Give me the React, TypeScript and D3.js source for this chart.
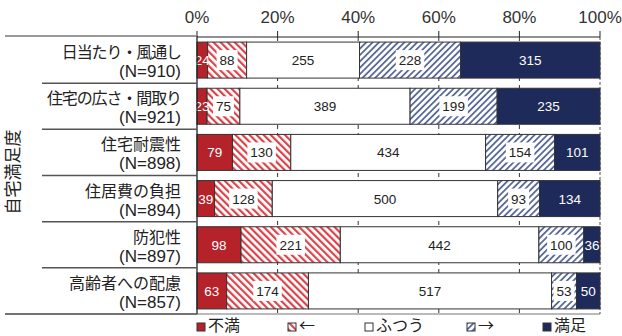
import React from "react";
import * as d3 from "d3";

const categories = ["日当たり・風通し", "住宅の広さ・間取り", "住宅耐震性", "住居費の負担", "防犯性", "高齢者への配慮"];
const totals = [910, 921, 898, 894, 897, 857];
const fuman = [24, 23, 79, 39, 98, 63];
const yaFuman = [88, 75, 130, 128, 221, 174];
const futsuu = [255, 389, 434, 500, 442, 517];
const yaManzoku = [228, 199, 154, 93, 100, 53];
const manzoku = [315, 235, 101, 134, 36, 50];
const seriesNames = ["不満", "←", "ふつう", "→", "満足"];
const tickValues = [0, 0.2, 0.4, 0.6, 0.8, 1];
const axisTitle = "自宅満足度";

const W = 622, H = 336;
const x0 = 197, x1 = 600, yTop = 37, yBot = 314;
const RED = "#b5222a", NAVY = "#1e2a5a";
const FONT = "'Liberation Sans', Arial, 'Noto Sans CJK JP', sans-serif";
const CJK = "'Noto Sans CJK JP', sans-serif";

export default function App() {
  const series = [fuman, yaFuman, futsuu, yaManzoku, manzoku];
  const x = d3.scaleLinear().domain([0, 1]).range([x0, x1]);
  const y = d3.scaleBand<number>().domain(d3.range(categories.length)).range([yTop, yBot]).paddingInner(0.22).paddingOuter(0.11);
  const step = y.step();
  const fills = [RED, "url(#hatchRed)", "#ffffff", "url(#hatchBlue)", NAVY];

  const rows = categories.map((c, i) => {
    const vals = series.map((s) => s[i]);
    const sum = d3.sum(vals);
    let acc = 0;
    const segs = vals.map((v, k) => {
      const a = acc / sum;
      acc += v;
      const b = acc / sum;
      return { k, v, a, b };
    });
    return { c, i, segs };
  });

  return (
    <svg width={W} height={H} style={{ display: "block", position: "absolute", left: 0, top: 0 }} fontFamily={FONT}>
      <defs>
        <pattern id="hatchRed" patternUnits="userSpaceOnUse" width="5" height="5" patternTransform="rotate(-45)">
          <rect width="5" height="5" fill="#fff" />
          <rect x="0" y="0" width="2.2" height="5" fill="#d9434a" />
        </pattern>
        <pattern id="hatchBlue" patternUnits="userSpaceOnUse" width="4.5" height="4.5" patternTransform="rotate(45)">
          <rect width="4.5" height="4.5" fill="#fff" />
          <rect x="0" y="0" width="1.8" height="4.5" fill="#5a6a9a" />
        </pattern>
      </defs>
      <rect width={W} height={H} fill="#fff" />

      {tickValues.map((t) => (
        <g key={t}>
          <text x={x(t)} y={23} fontSize={17} textAnchor="middle" fill="#333">{Math.round(t * 100)}%</text>
          <line x1={x(t)} x2={x(t)} y1={31} y2={yTop} stroke="#222" strokeWidth={1} />
        </g>
      ))}

      {tickValues.slice(1, -1).map((t) => (
        <line key={"g" + t} x1={x(t)} x2={x(t)} y1={yTop} y2={yBot} stroke="#333" strokeWidth={1} strokeDasharray="4,4" />
      ))}
      <line x1={x1} x2={x1} y1={yTop} y2={yBot} stroke="#888" strokeWidth={1.5} strokeDasharray="3,2" />

      {rows.map((r) => (
        <g key={r.c}>
          {r.segs.map((s) => (
            <rect key={s.k} x={x(s.a)} y={y(r.i)!} width={x(s.b) - x(s.a)} height={y.bandwidth()} fill={fills[s.k]} stroke="#333" strokeWidth={1} />
          ))}
          {r.segs.map((s) => {
            const cx = (x(s.a) + x(s.b)) / 2;
            const cy = y(r.i)! + y.bandwidth() / 2;
            const label = String(s.v);
            const tw = label.length * 7.5;
            const hatched = s.k === 1 || s.k === 3;
            return (
              <g key={"t" + s.k}>
                {hatched && <rect x={cx - tw / 2 - 3} y={cy - 10} width={tw + 6} height={20} fill="#fff" />}
                <text x={cx} y={cy + 5} fontSize={13.5} textAnchor="middle" fill={s.k === 0 || s.k === 4 ? "#fff" : "#222"}>{label}</text>
              </g>
            );
          })}
        </g>
      ))}

      <line x1={x0} x2={x1} y1={yTop} y2={yTop} stroke="#222" strokeWidth={1.2} />
      <line x1={x0} x2={x1} y1={yBot} y2={yBot} stroke="#777" strokeWidth={1.2} />
      <line x1={x0} x2={x0} y1={yTop - 1} y2={yBot} stroke="#222" strokeWidth={1.3} />
      <line x1={5} x2={x0} y1={yTop - 1} y2={yTop - 1} stroke="#777" strokeWidth={1.5} />
      <line x1={5} x2={x0} y1={yBot} y2={yBot} stroke="#444" strokeWidth={1.5} />
      {d3.range(1, categories.length).map((i) => (
        <line key={"sep" + i} x1={42} x2={x0} y1={yTop + i * step} y2={yTop + i * step} stroke="#555" strokeWidth={1.5} />
      ))}

      {rows.map((r) => {
        const cy = yTop + r.i * step + step / 2;
        return (
          <g key={"l" + r.c}>
            <text x={181} y={cy - 2} fontSize={16} textAnchor="end" fill="#222" fontFamily={CJK} letterSpacing={r.c.includes("・") ? -1.1 : 0}>{r.c}</text>
            <text x={181} y={cy + 17} fontSize={17} textAnchor="end" fill="#222">(N={totals[r.i]})</text>
          </g>
        );
      })}

      <text transform={`translate(19,172) rotate(-90)`} fontSize={17} textAnchor="middle" fill="#222" fontFamily={CJK}>{axisTitle}</text>

      {seriesNames.map((n, k) => {
        const lx = [197, 288, 365, 467, 543][k];
        return (
          <g key={"lg" + n}>
            <rect x={lx} y={323} width={8} height={8} fill={fills[k]} stroke="#333" strokeWidth={1} />
            <text x={lx + 11} y={331} fontSize={16} fill="#222" fontFamily={CJK}>{n}</text>
          </g>
        );
      })}
    </svg>
  );
}
